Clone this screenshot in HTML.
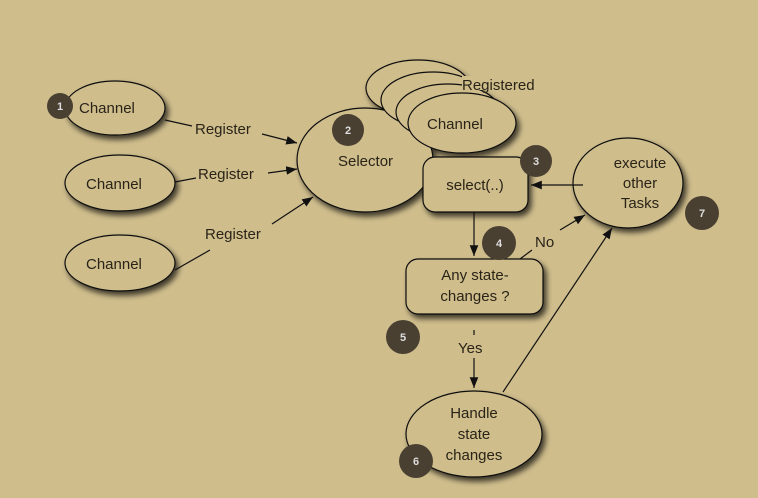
<!DOCTYPE html>
<html><head><style>
body{margin:0;background:#cfbd8c}
svg{display:block}
text{font-family:"Liberation Sans",sans-serif;font-size:15px;fill:#2a2418}
.s{fill:#cfbd8c;stroke:#111;stroke-width:1.2}
.b{fill:#4a4032}
.bt{fill:#ddd;font-size:11px;font-weight:bold;text-anchor:middle}
.l{stroke:#111;stroke-width:1.2;fill:none}
</style></head><body>
<svg width="758" height="498" viewBox="0 0 758 498">
<defs>
<filter id="sh" x="-20%" y="-20%" width="150%" height="150%"><feGaussianBlur in="SourceAlpha" stdDeviation="3"/><feOffset dx="3" dy="4"/><feComponentTransfer><feFuncA type="linear" slope="0.7"/></feComponentTransfer><feMerge><feMergeNode/><feMergeNode in="SourceGraphic"/></feMerge></filter>
<marker id="a" viewBox="0 0 10 10" refX="10" refY="5" markerWidth="9" markerHeight="9" orient="auto"><path d="M0,1L10,5L0,9z" fill="#111"/></marker>
</defs>
<g filter="url(#sh)">
<ellipse class="s" cx="115" cy="108" rx="50" ry="27"/>
<ellipse class="s" cx="120" cy="183" rx="55" ry="28"/>
<ellipse class="s" cx="120" cy="263" rx="55" ry="28"/>
<ellipse class="s" cx="365" cy="160" rx="68" ry="52"/>
<ellipse class="s" cx="418" cy="88" rx="52" ry="28"/>
<ellipse class="s" cx="433" cy="100" rx="52" ry="28"/>
<ellipse class="s" cx="448" cy="112" rx="52" ry="28"/>
<ellipse class="s" cx="462" cy="123" rx="54" ry="30"/>
<rect class="s" x="423" y="157" width="105" height="55" rx="12"/>
<ellipse class="s" cx="628" cy="183" rx="55" ry="45"/>
<rect class="s" x="406" y="259" width="137" height="55" rx="12"/>
<ellipse class="s" cx="474" cy="434" rx="68" ry="43"/>
</g>
<rect x="462" y="76" width="72" height="14" fill="#cfbd8c"/>
<text x="462" y="90">Registered</text>
<text x="79" y="113">Channel</text>
<text x="86" y="189">Channel</text>
<text x="86" y="269">Channel</text>
<text x="338" y="166">Selector</text>
<text x="427" y="129">Channel</text>
<text x="475" y="190" text-anchor="middle">select(..)</text>
<text x="640" y="168" text-anchor="middle">execute</text>
<text x="640" y="188" text-anchor="middle">other</text>
<text x="640" y="208" text-anchor="middle">Tasks</text>
<text x="475" y="280" text-anchor="middle">Any state-</text>
<text x="475" y="301" text-anchor="middle">changes ?</text>
<text x="474" y="418" text-anchor="middle">Handle</text>
<text x="474" y="439" text-anchor="middle">state</text>
<text x="474" y="460" text-anchor="middle">changes</text>
<path class="l" d="M165,120 L192,126 M262,134 L297,143" marker-end="url(#a)"/>
<path class="l" d="M175,182 L196,178 M268,173 L297,169" marker-end="url(#a)"/>
<path class="l" d="M175,270 L210,250 M272,224 L313,197" marker-end="url(#a)"/>
<text x="195" y="134">Register</text>
<text x="198" y="179">Register</text>
<text x="205" y="239">Register</text>
<path class="l" d="M474,212 V256" marker-end="url(#a)"/>
<path class="l" d="M520,259 L532,250 M560,230 L585,215" marker-end="url(#a)"/>
<text x="535" y="247">No</text>
<path class="l" d="M583,185 H531" marker-end="url(#a)"/>
<path class="l" d="M474,330 V335 M474,358 V388" marker-end="url(#a)"/>
<text x="458" y="353">Yes</text>
<path class="l" d="M503,392 L612,228" marker-end="url(#a)"/>
<circle class="b" cx="60" cy="106" r="13"/><text class="bt" x="60" y="110">1</text>
<circle class="b" cx="348" cy="130" r="16"/><text class="bt" x="348" y="134">2</text>
<circle class="b" cx="536" cy="161" r="16"/><text class="bt" x="536" y="165">3</text>
<circle class="b" cx="499" cy="243" r="17"/><text class="bt" x="499" y="247">4</text>
<circle class="b" cx="403" cy="337" r="17"/><text class="bt" x="403" y="341">5</text>
<circle class="b" cx="416" cy="461" r="17"/><text class="bt" x="416" y="465">6</text>
<circle class="b" cx="702" cy="213" r="17"/><text class="bt" x="702" y="217">7</text>
</svg>
</body></html>
